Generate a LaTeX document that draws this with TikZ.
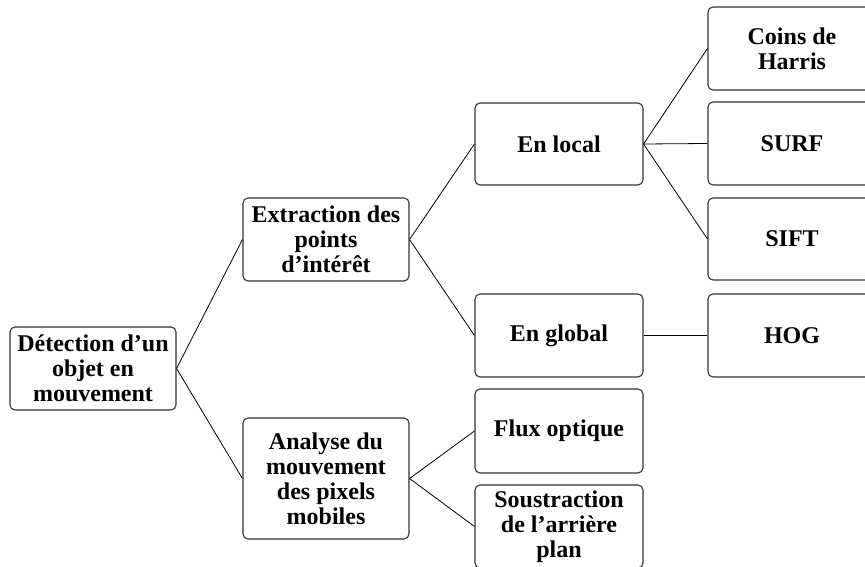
\documentclass[tikz,border=0pt]{standalone}
\usepackage{fontspec}
\setmainfont{Liberation Serif}
\begin{document}
\begin{tikzpicture}[x=1pt,y=-1pt,
  box/.style={draw=black!80, line width=1.1pt, rounded corners=5pt, align=center,
    inner sep=0pt, font=\bfseries\fontsize{24}{25}\selectfont, minimum width=#1},
  box/.default=166,
  link/.style={draw=black, line width=0.8pt}]
\useasboundingbox (0,0) rectangle (865,567);
\node[box, minimum height=83] (root) at (93,368.5) {Détection d’un\\objet en\\mouvement};
\node[box, minimum height=83] (ext) at (326,239.5) {Extraction des\\points\\d’intérêt};
\node[box, minimum height=121] (ana) at (326,478.5) {Analyse du\\mouvement\\des pixels\\mobiles};
\node[box=168, minimum height=82] (loc) at (559,144) {En local};
\node[box=168, minimum height=83] (glo) at (559,335.5) {En global};
\node[box=168, minimum height=84] (flux) at (559,431) {Flux optique};
\node[box=168, minimum height=83] (sous) at (559,526.5) {Soustraction\\de l’arrière\\plan};
\node[box=168, minimum height=83] (coins) at (792,48.5) {Coins de\\Harris};
\node[box=168, minimum height=83] (surf) at (792,143.5) {SURF};
\node[box=168, minimum height=82] (sift) at (792,239) {SIFT};
\node[box=168, minimum height=83] (hog) at (792,335.5) {HOG};
\draw[link] (root.east) -- (ext.west);
\draw[link] (root.east) -- (ana.west);
\draw[link] (ext.east) -- (loc.west);
\draw[link] (ext.east) -- (glo.west);
\draw[link] (ana.east) -- (flux.west);
\draw[link] (ana.east) -- (sous.west);
\draw[link] (loc.east) -- (coins.west);
\draw[link] (loc.east) -- (surf.west);
\draw[link] (loc.east) -- (sift.west);
\draw[link] (glo.east) -- (hog.west);
\end{tikzpicture}
\end{document}
